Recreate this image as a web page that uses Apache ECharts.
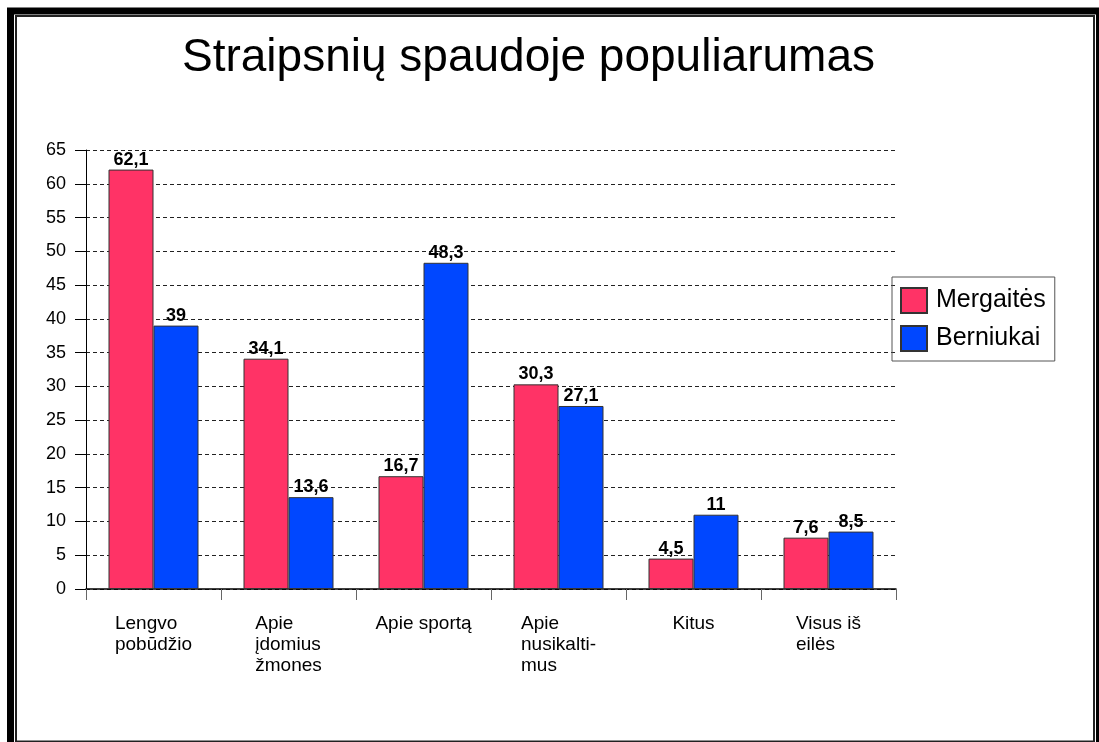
<!DOCTYPE html>
<html>
<head>
<meta charset="utf-8">
<script src="https://cdn.jsdelivr.net/npm/echarts@6/dist/echarts.min.js"></script>
<style>
html, body { margin: 0; padding: 0; background: #fff; }
#chart { width: 1099px; height: 742px; }
</style>
</head>
<body>
<div id="chart"></div>
<script>
// duomenys
var categories = ['Lengvo\npobūdžio', 'Apie\nįdomius\nžmones', 'Apie sportą', 'Apie\nnusikalti-\nmus', 'Kitus', 'Visus iš\neilės'];
var mergaites = [62.1, 34.1, 16.7, 30.3, 4.5, 7.6];
var berniukai = [39, 13.6, 48.3, 27.1, 11, 8.5];
var seriesNames = ['Mergaitės', 'Berniukai'];

var FONT = '"Liberation Sans", Arial, sans-serif';

var chart = echarts.init(document.getElementById('chart'));

function barLabel() {
  return {
    show: true,
    position: 'top',
    distance: 1,
    color: '#000',
    fontFamily: FONT,
    fontSize: 18,
    fontWeight: 'bold',
    formatter: function (p) { return String(p.value).replace('.', ','); }
  };
}

var option = {
  backgroundColor: '#fff',
  animation: false,
  title: {
    text: 'Straipsnių spaudoje populiarumas',
    left: 182,
    top: 35,
    padding: 0,
    textStyle: { fontFamily: FONT, fontSize: 46, fontWeight: 'normal', color: '#000' }
  },
  legend: {
    orient: 'vertical',
    left: 892,
    top: 277,
    icon: 'rect',
    itemWidth: 26,
    itemHeight: 25,
    itemGap: 11,
    padding: [10, 9, 9, 8],
    borderColor: '#555',
    borderWidth: 1,
    textStyle: { fontFamily: FONT, fontSize: 25, color: '#000', padding: [0, 0, 0, 4] },
    data: seriesNames
  },
  grid: { left: 86, right: 203, top: 150, bottom: 153 },
  xAxis: {
    type: 'category',
    data: categories,
    axisLine: { lineStyle: { color: '#000', width: 1.5 } },
    axisTick: { show: true, length: 11, lineStyle: { color: '#666' } },
    axisLabel: {
      interval: 0,
      margin: 24,
      formatter: function (v) {
        return v.split('\n').map(function (s) { return '{a|' + s + '}'; }).join('\n');
      },
      rich: {
        a: { align: 'left', fontFamily: FONT, fontSize: 19, lineHeight: 21, color: '#000' }
      }
    }
  },
  yAxis: {
    type: 'value',
    min: 0,
    max: 65,
    interval: 5,
    axisLine: { show: true, lineStyle: { color: '#000', width: 1 } },
    axisTick: { show: true, length: 11, lineStyle: { color: '#000' } },
    axisLabel: { margin: 20, fontFamily: FONT, fontSize: 18, color: '#000' },
    splitLine: { show: true, lineStyle: { color: '#222', type: [4, 3], width: 1 } }
  },
  series: [
    {
      name: seriesNames[0],
      type: 'bar',
      data: mergaites,
      barWidth: 45,
      barGap: '0%',
      itemStyle: { color: '#FF3366', borderColor: '#333', borderWidth: 1 },
      label: barLabel()
    },
    {
      name: seriesNames[1],
      type: 'bar',
      data: berniukai,
      barWidth: 45,
      barGap: '0%',
      itemStyle: { color: '#0047FF', borderColor: '#333', borderWidth: 1 },
      label: barLabel()
    }
  ],
  graphic: [
    // rėmelis
    { type: 'rect', silent: true, z: 100, shape: { x: 10.5, y: 11, width: 1089, height: 745 }, style: { fill: 'none', stroke: '#000', lineWidth: 7 } },
    { type: 'rect', silent: true, z: 100, shape: { x: 16, y: 16, width: 1078, height: 725.5 }, style: { fill: 'none', stroke: '#222', lineWidth: 2 } }
  ]
};

chart.setOption(option);
</script>
</body>
</html>
